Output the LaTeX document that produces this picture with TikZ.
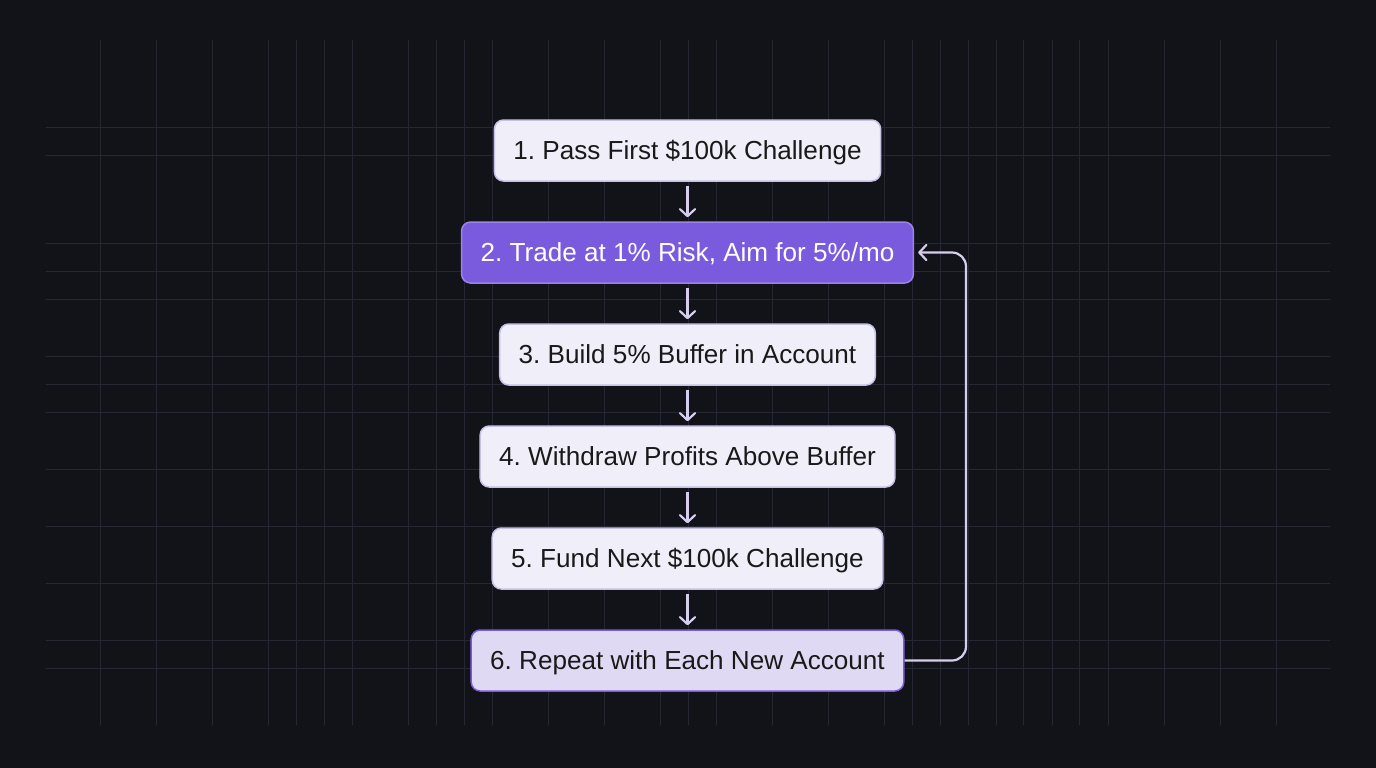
\documentclass[tikz,border=0pt]{standalone}
\usepackage{fontspec}
\setsansfont{Liberation Sans}
\usetikzlibrary{arrows.meta}
\frenchspacing

\definecolor{bgdark}{HTML}{111318}
\definecolor{gridline}{HTML}{252833}
\definecolor{boxfill}{HTML}{F0EEF8}
\definecolor{boxedge}{HTML}{C8C0E4}
\definecolor{stepviolet}{HTML}{7B5BDD}
\definecolor{lavfill}{HTML}{E0D9F4}
\definecolor{arrowlav}{HTML}{D6CEEC}

\begin{document}
\begin{tikzpicture}[x=1pt,y=-1pt,>={Straight Barb[length=7pt,width=15pt,round]},node distance=102pt,
    main node/.style={rectangle,rounded corners=9pt,draw=boxedge,fill=boxfill,line width=1.5pt,minimum height=61pt,inner xsep=19pt,text height=18.5pt,text depth=0pt,text=black!90,font=\sffamily\fontsize{26.1}{30}\selectfont},
    accent node/.style={main node,draw=stepviolet!75!white,fill=stepviolet,text=white},
    last node/.style={main node,draw=stepviolet,fill=lavfill}]

            \fill[bgdark] (0,0) rectangle (1376,768);
            \foreach \gx in {100,156,212,268,296,324,352,408,436,464,492,548,604,660,688,716,772,828,884,912,940,968,996,1023,1052,1079,1108,1164,1220,1276}
                \draw[gridline,line width=1pt] (\gx,40) -- (\gx,725);
            \foreach \gy in {127,155,243,271,299,356,384,412,469,526,583,640,668}
                \draw[gridline,line width=1pt] (46,\gy) -- (1330,\gy);

            \node[main node] (1) at (687.5,150.5) {1. Pass First \$100k Challenge};
            \node[accent node] (2) [below of = 1] {2. Trade at 1\% Risk, Aim for 5\%/mo};
            \node[main node] (3) [below of = 2] {3. Build 5\% Buffer in Account};
            \node[main node] (4) [below of = 3] {4. Withdraw Profits Above Buffer};
            \node[main node] (5) [below of = 4] {5. Fund Next \$100k Challenge};
            \node[last node] (6) [below of = 5] {6. Repeat with Each New Account};
            \coordinate (loop) at (966,0);

            \path[->,draw=arrowlav,line width=2.2pt,shorten >=4pt,shorten <=4pt]
                (1) edge (2)
                (2) edge (3)
                (3) edge (4)
                (4) edge (5)
                (5) edge (6)
            ;
            \draw[->,arrowlav,line width=2.2pt,rounded corners=14pt,shorten >=4pt]
                (6.east) -| (loop |- 2.east) -- (2.east);
        \end{tikzpicture}
\end{document}
